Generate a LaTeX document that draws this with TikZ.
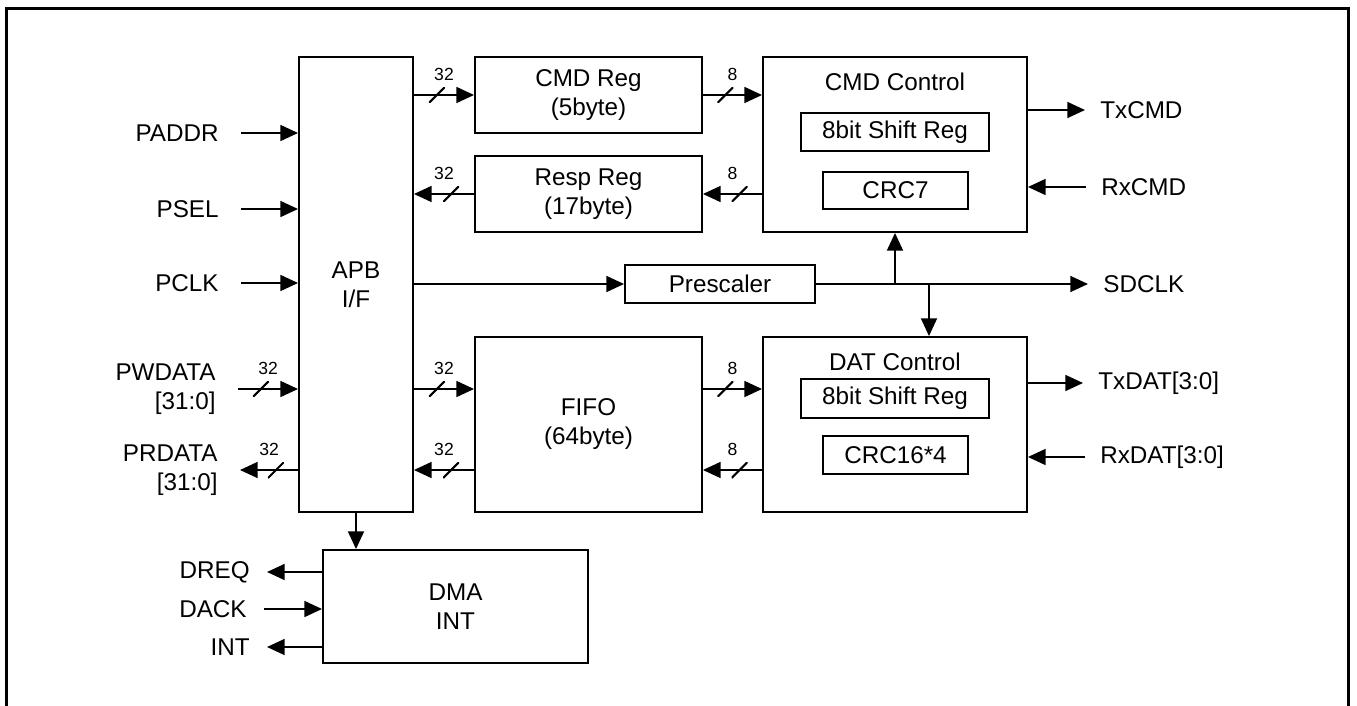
\documentclass[tikz,border=0pt]{standalone}
\usepackage{fontspec}
\setmainfont{Liberation Sans}
\usetikzlibrary{arrows.meta,positioning}

\begin{document}
\begin{tikzpicture}[x=0.02cm, y=-0.02cm,
    font=\fontsize{13.8}{16.5}\selectfont,
    blk/.style={draw, line width=1.1pt, inner sep=0pt, align=center},
    sig/.style={line width=1.1pt, -{Triangle[length=10pt, width=9pt]}},
    sigl/.style={anchor=east, inner xsep=#1, inner ysep=0pt, align=right},
    sigl/.default=0.44cm,
    sigr/.style={anchor=west, inner xsep=0.3cm, inner ysep=0pt, align=left},
    busmark/.style={inner sep=0pt, minimum size=0.32cm,
        path picture={\draw[-, line width=1.2pt] (path picture bounding box.south west) -- (path picture bounding box.north east);}},
    buslbl/.style={font=\fontsize{10}{11}\selectfont, inner sep=0pt, above=0.27cm}]
    \useasboundingbox (0,0) rectangle (1357,706);
    % Outer frame (open at the bottom)
    \draw[line width=1.7pt] (6.5,706) -- (6.5,8.5) -- (1348.7,8.5) -- (1348.7,706);

    % Define blocks
    \node[blk, minimum width=2.28cm, minimum height=9.1cm] (apb) at (356,284.5) {APB\\I/F};
    \node[blk, minimum width=4.54cm, minimum height=1.52cm] (cmdreg) at (588.5,95) {CMD Reg\\(5byte)};
    \node[blk, minimum width=4.54cm, minimum height=1.52cm] (respreg) at (588.5,194) {Resp Reg\\(17byte)};
    \node[blk, minimum width=4.54cm, minimum height=3.5cm] (fifo) at (588.5,424.5) {FIFO\\(64byte)};
    \node[blk, minimum width=3.8cm, minimum height=0.76cm] (presc) at (720,284) {Prescaler};
    \node[blk, minimum width=5.3cm, minimum height=2.26cm] (dma) at (455.5,606.5) {DMA\\INT};

    \node[blk, minimum width=5.28cm, minimum height=3.5cm] (cmdctl) at (895,144.5) {};
    \node (cmdtitle) at (895,82) {CMD Control};
    \node[blk, minimum width=3.76cm, minimum height=0.76cm] (cmdshift) at (895,132) {8bit Shift Reg};
    \node[blk, minimum width=2.9cm, minimum height=0.74cm] (crc7) at (895.5,190.5) {CRC7};

    \node[blk, minimum width=5.28cm, minimum height=3.5cm] (datctl) at (895,424.5) {};
    \node (dattitle) at (895,362) {DAT Control};
    \node[blk, minimum width=3.76cm, minimum height=0.78cm] (datshift) at (895,398.5) {8bit Shift Reg};
    \node[blk, minimum width=2.9cm, minimum height=0.76cm] (crc16) at (895.5,455) {CRC16*4};

    % Signal names
    \node[sigl] (paddr) at (241,133) {PADDR};
    \node[sigl] (psel) at (241,209) {PSEL};
    \node[sigl] (pclk) at (241,283) {PCLK};
    \node[sigl] (pwdata) at (238,389) {PWDATA\\{[31:0]}};
    \node[sigl] (prdata) at (240,470) {PRDATA\\{[31:0]}};
    \node[sigl=0.34cm] (dreq) at (267,572) {DREQ};
    \node[sigl=0.34cm] (dack) at (264,609) {DACK};
    \node[sigl=0.34cm] (int) at (267,647) {INT};
    \node[sigr] (txcmd) at (1085,110) {TxCMD};
    \node[sigr] (rxcmd) at (1086,187) {RxCMD};
    \node[sigr] (sdclk) at (1088,284) {SDCLK};
    \node[sigr] (txdat) at (1083,383) {TxDAT[3:0]};
    \node[sigr] (rxdat) at (1085,457) {RxDAT[3:0]};

    % APB side
    \foreach \s in {paddr,psel,pclk}
        \draw[sig] (\s.east) -- (\s.east -| apb.west);
    \draw[sig] (pwdata.east) -- node[busmark, pos=.38] {} node[buslbl, pos=.5] {32} (pwdata.east -| apb.west);
    \draw[sig] (apb.west |- prdata.east) -- node[busmark, pos=.38] {} node[buslbl, pos=.5] {32} (prdata.east);

    % Registers and FIFO
    \draw[sig] (apb.east |- cmdreg.west) -- node[busmark, pos=.38] {} node[buslbl, pos=.5] {32} (cmdreg.west);
    \draw[sig] (cmdreg.east) -- node[busmark, pos=.38] {} node[buslbl, pos=.5] {8} (cmdreg.east -| cmdctl.west);
    \draw[sig] (respreg.west) -- node[busmark, pos=.38] {} node[buslbl, pos=.5] {32} (respreg.west -| apb.east);
    \draw[sig] (cmdctl.west |- respreg.east) -- node[busmark, pos=.38] {} node[buslbl, pos=.5] {8} (respreg.east);
    \draw[sig] (apb.east |- pwdata.east) -- node[busmark, pos=.38] {} node[buslbl, pos=.5] {32} (fifo.west |- pwdata.east);
    \draw[sig] (fifo.west |- prdata.east) -- node[busmark, pos=.38] {} node[buslbl, pos=.5] {32} (apb.east |- prdata.east);
    \draw[sig] (fifo.east |- pwdata.east) -- node[busmark, pos=.38] {} node[buslbl, pos=.5] {8} (datctl.west |- pwdata.east);
    \draw[sig] (datctl.west |- prdata.east) -- node[busmark, pos=.38] {} node[buslbl, pos=.5] {8} (fifo.east |- prdata.east);

    % Clock path
    \draw[sig] (apb.east |- presc.west) -- (presc.west);
    \draw[sig] (presc.east) -- (sdclk.west);
    \draw[sig] (presc.east -| cmdctl.south) -- (cmdctl.south);
    \coordinate (clktap) at (929,284);
    \draw[sig] (clktap) -- (clktap |- datctl.north);

    % SD card side
    \draw[sig] (cmdctl.east |- txcmd.west) -- (txcmd.west);
    \draw[sig] (rxcmd.west) -- (rxcmd.west -| cmdctl.east);
    \draw[sig] (datctl.east |- txdat.west) -- (txdat.west);
    \draw[sig] (rxdat.west) -- (rxdat.west -| datctl.east);

    % DMA / interrupt
    \draw[sig] (apb.south) -- (apb.south |- dma.north);
    \draw[sig] (dreq.east -| dma.west) -- (dreq.east);
    \draw[sig] (dack.east) -- (dack.east -| dma.west);
    \draw[sig] (int.east -| dma.west) -- (int.east);
\end{tikzpicture}
\end{document}
